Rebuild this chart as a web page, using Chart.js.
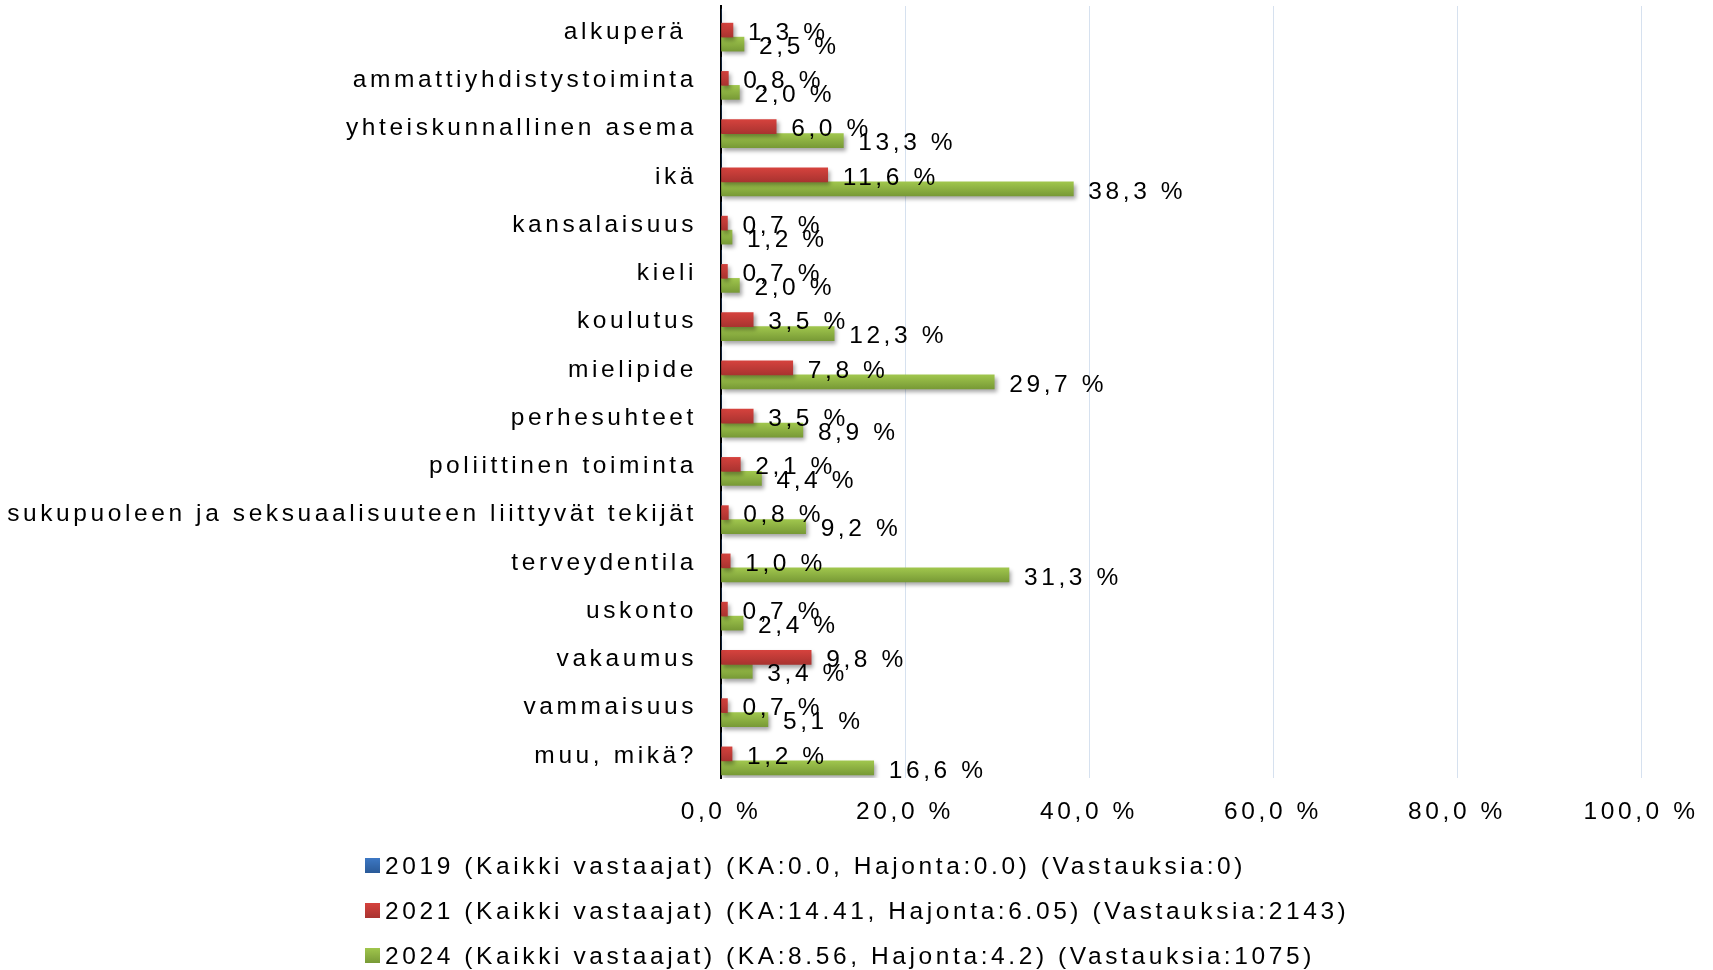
<!DOCTYPE html>
<html lang="fi">
<head>
<meta charset="utf-8">
<title>Syrjinnän perusteet</title>
<script src="https://cdn.jsdelivr.net/npm/chart.js@4.4.1/dist/chart.umd.min.js"></script>
<style>
  html, body { margin: 0; padding: 0; background: #fff; }
  #wrap { position: relative; width: 1713px; height: 970px; }
  #legend { position: absolute; left: 365px; top: 843px; font: 24.5px "Liberation Sans", Arial, sans-serif; letter-spacing: 3.6px; color: #000; }
  .item { height: 45px; display: flex; align-items: center; white-space: pre; }
  .box { width: 15px; height: 15px; margin-right: 5px; flex: none; }
</style>
</head>
<body>
<div id="wrap">
  <canvas id="chart"></canvas>
  <div id="legend"></div>
</div>
<script>
// ---------- Data ----------
const categories = [
  'alkuperä ', 'ammattiyhdistystoiminta', 'yhteiskunnallinen asema', 'ikä',
  'kansalaisuus', 'kieli', 'koulutus', 'mielipide', 'perhesuhteet',
  'poliittinen toiminta', 'sukupuoleen ja seksuaalisuuteen liittyvät tekijät',
  'terveydentila', 'uskonto', 'vakaumus', 'vammaisuus', 'muu, mikä?'
];
const values2019 = [0, 0, 0, 0, 0, 0, 0, 0, 0, 0, 0, 0, 0, 0, 0, 0];
const values2021 = [1.3, 0.8, 6.0, 11.6, 0.7, 0.7, 3.5, 7.8, 3.5, 2.1, 0.8, 1.0, 0.7, 9.8, 0.7, 1.2];
const values2024 = [2.5, 2.0, 13.3, 38.3, 1.2, 2.0, 12.3, 29.7, 8.9, 4.4, 9.2, 31.3, 2.4, 3.4, 5.1, 16.6];
const seriesLabels = [
  '2019 (Kaikki vastaajat) (KA:0.0, Hajonta:0.0) (Vastauksia:0)',
  '2021 (Kaikki vastaajat) (KA:14.41, Hajonta:6.05) (Vastauksia:2143)',
  '2024 (Kaikki vastaajat) (KA:8.56, Hajonta:4.2) (Vastauksia:1075)'
];
const xTicks = [0, 20, 40, 60, 80, 100];

const FONT = '"Liberation Sans", Arial, sans-serif';
const FONT_SIZE = 24.5;
const SPACING = '3.6px';

const fmt = v => v.toFixed(1).replace('.', ',') + ' %';

// vertical gradient per bar, built from the bar's own position
function barFill(top, bottom) {
  return (c) => {
    const el = c.chart.getDatasetMeta(c.datasetIndex).data[c.dataIndex];
    if (!el || el.y == null || isNaN(el.y)) return top;
    const g = c.chart.ctx.createLinearGradient(0, el.y - 7, 0, el.y + 7);
    g.addColorStop(0, top);
    g.addColorStop(1, bottom);
    return g;
  };
}

const palette = [
  ['#3d78c4', '#2a5a98'],
  ['#d5423d', '#a93330'],
  ['#a0c64d', '#789a36']
];

// ---------- Plugins ----------
const spacingPlugin = {
  id: 'spacing',
  beforeDraw(chart) { chart.ctx.letterSpacing = SPACING; }
};

const barDecor = {
  id: 'barDecor',
  beforeDatasetsDraw(chart) {
    const ctx = chart.ctx;
    ctx.save();
    ctx.shadowColor = 'rgba(0,0,0,0.35)';
    ctx.shadowOffsetX = 2;
    ctx.shadowOffsetY = 3;
    ctx.shadowBlur = 4;
  },
  afterDatasetsDraw(chart) {
    const ctx = chart.ctx;
    ctx.restore();
    ctx.save();
    ctx.letterSpacing = SPACING;
    ctx.font = FONT_SIZE + 'px ' + FONT;
    ctx.fillStyle = '#000';
    ctx.textAlign = 'left';
    ctx.textBaseline = 'middle';
    chart.data.datasets.forEach((ds, di) => {
      chart.getDatasetMeta(di).data.forEach((el, i) => {
        const v = ds.data[i];
        if (!v) return;
        ctx.fillText(fmt(v), el.x + 15, el.y + 3);
      });
    });
    ctx.restore();
  }
};

// ---------- Chart ----------
const datasets = [values2019, values2021, values2024].map((vals, i) => ({
  label: seriesLabels[i],
  data: vals,
  backgroundColor: barFill(palette[i][0], palette[i][1]),
  borderWidth: 0,
  barThickness: 14
}));

const chart = new Chart(document.getElementById('chart'), {
  type: 'bar',
  data: { labels: categories, datasets },
  plugins: [spacingPlugin, barDecor],
  options: {
    indexAxis: 'y',
    responsive: true,
    maintainAspectRatio: false,
    animation: false,
    layout: { padding: { top: 6, right: 72, left: 0, bottom: 0 } },
    plugins: {
      legend: { display: false },
      tooltip: { enabled: false }
    },
    scales: {
      x: {
        min: 0,
        max: 100,
        afterBuildTicks: (s) => { s.ticks = xTicks.map(v => ({ value: v })); },
        afterFit: (s) => { s.height = 192; s.paddingLeft = 0; s.paddingRight = 0; },
        grid: { color: '#d6e1ef', lineWidth: 1, drawTicks: false },
        border: { display: false },
        ticks: {
          padding: 20,
          color: '#000',
          font: { family: FONT, size: FONT_SIZE },
          maxRotation: 0,
          callback: (v) => fmt(v)
        }
      },
      y: {
        afterFit: (s) => { s.width = 721; s.paddingTop = 0; s.paddingBottom = 0; },
        grid: { display: false, drawTicks: false },
        border: { display: true, color: '#000', width: 2 },
        ticks: {
          padding: 24,
          labelOffset: 2,
          color: '#000',
          autoSkip: false,
          font: { family: FONT, size: FONT_SIZE }
        }
      }
    }
  }
});
// second pass so the gradients can use the bar positions
chart.update('none');

// ---------- Legend ----------
const legendEl = document.getElementById('legend');
seriesLabels.forEach((txt, i) => {
  const row = document.createElement('div');
  row.className = 'item';
  const box = document.createElement('span');
  box.className = 'box';
  box.style.background = `linear-gradient(${palette[i][0]}, ${palette[i][1]})`;
  const label = document.createElement('span');
  label.textContent = txt;
  row.appendChild(box);
  row.appendChild(label);
  legendEl.appendChild(row);
});
</script>
</body>
</html>
